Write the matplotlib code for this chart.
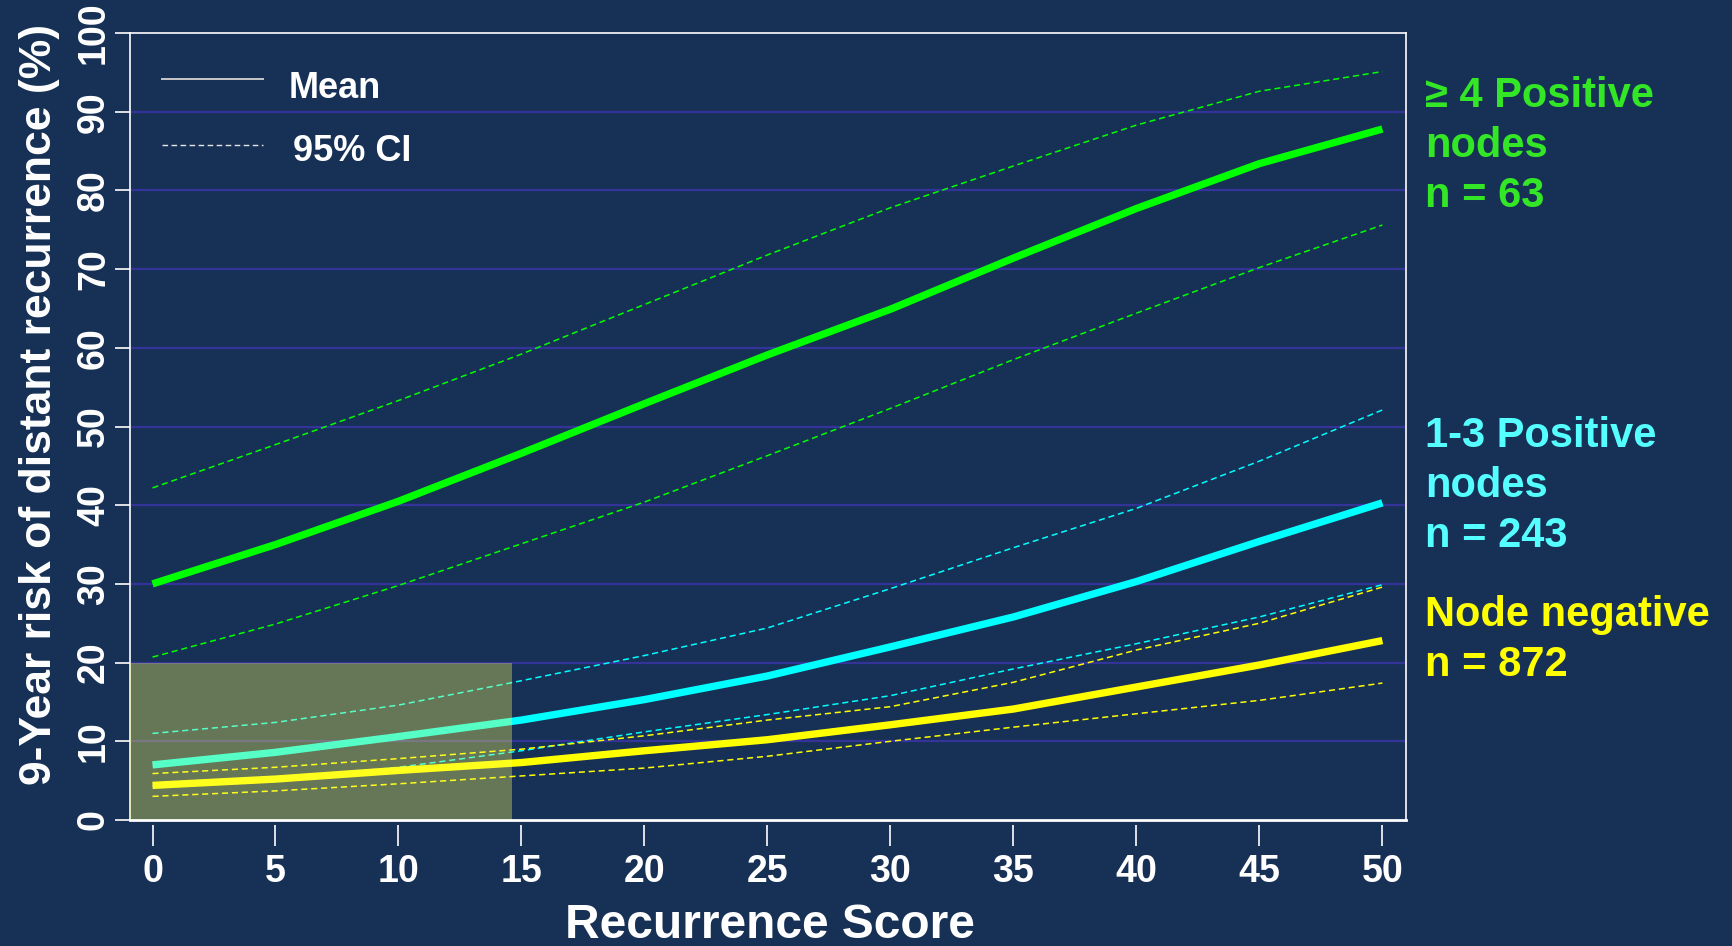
import matplotlib
matplotlib.use("Agg")
import matplotlib.pyplot as plt
from matplotlib.patches import Rectangle

plt.rcParams['font.family'] = ['Liberation Sans', 'DejaVu Sans']
plt.rcParams['font.weight'] = 'bold'

# ---- data ----
score = [0, 5, 10, 15, 20, 25, 30, 35, 40, 45, 50]

pos4_mean = [30.0, 35.0, 40.5, 46.6, 52.9, 59.1, 64.9, 71.4, 77.7, 83.4, 87.8]
pos4_upper = [42.2, 47.7, 53.3, 59.2, 65.5, 71.8, 77.8, 83.1, 88.3, 92.6, 95.1]
pos4_lower = [20.7, 24.9, 29.8, 35.1, 40.4, 46.3, 52.3, 58.5, 64.4, 70.2, 75.6]

pos13_mean = [7.0, 8.6, 10.6, 12.7, 15.3, 18.3, 22.0, 25.8, 30.3, 35.4, 40.3]
pos13_upper = [11.0, 12.4, 14.6, 17.7, 20.9, 24.4, 29.4, 34.6, 39.6, 45.6, 52.1]
pos13_lower = [4.3, 5.2, 6.7, 8.8, 11.2, 13.4, 15.8, 19.2, 22.4, 25.8, 29.9]

neg_mean = [4.4, 5.2, 6.3, 7.3, 8.8, 10.2, 12.1, 14.1, 16.9, 19.7, 22.8]
neg_upper = [5.9, 6.7, 7.8, 9.0, 10.7, 12.7, 14.4, 17.5, 21.6, 25.0, 29.6]
neg_lower = [3.0, 3.7, 4.6, 5.6, 6.6, 8.1, 10.0, 11.8, 13.5, 15.2, 17.4]

x_ticks = [0, 5, 10, 15, 20, 25, 30, 35, 40, 45, 50]
y_ticks = [0, 10, 20, 30, 40, 50, 60, 70, 80, 90, 100]
grid_levels = [10, 20, 30, 40, 50, 60, 70, 80, 90]

box_x_end = 14.6
box_y_top = 20

groups = [
    ("≥ 4 Positive\nnodes\nn = 63", pos4_mean, pos4_upper, pos4_lower, '#00ff00', '#33e626'),
    ("1-3 Positive\nnodes\nn = 243", pos13_mean, pos13_upper, pos13_lower, '#00ffff', '#55ffff'),
    ("Node negative\nn = 872", neg_mean, neg_upper, neg_lower, '#ffff00', '#ffff00'),
]
label_y_px = [97, 437, 616]

# ---- figure ----
W, H = 1733, 946
bg = '#173156'
fig = plt.figure(figsize=(W / 100, H / 100), dpi=100, facecolor=bg)
ax_l, ax_r, ax_t, ax_b = 130, 1406, 33, 820
ax = fig.add_axes([ax_l / W, 1 - ax_b / H, (ax_r - ax_l) / W, (ax_b - ax_t) / H])
ax.set_facecolor(bg)

ax.set_xlim(-0.915, 50.96)
ax.set_ylim(0, 100)

for g in grid_levels:
    ax.axhline(g, color='#333399', lw=1.6, zorder=1)

for name, m, u, l, c, tc in groups:
    ax.plot(score, u, color=c, lw=1.1, dashes=(4, 2.5), zorder=2)
    ax.plot(score, l, color=c, lw=1.1, dashes=(4, 2.5), zorder=2)
    ax.plot(score, m, color=c, lw=5.3, zorder=3, solid_capstyle='butt')

ax.add_patch(Rectangle((-0.915, 0), box_x_end + 0.915, box_y_top,
                       facecolor='#ffff5a', alpha=0.34, edgecolor='none', zorder=4))

# legend
ax.plot([0.38, 4.5], [94.1, 94.1], color='#c8c8c8', lw=1.4, zorder=5)
ax.plot([0.38, 4.5], [85.8, 85.8], color='#e6e6e6', lw=1.0, dashes=(4, 2.5), zorder=5)
ax.text(5.55, 93.0, "Mean", color='white', fontsize=26, fontweight='bold', va='center', ha='left')
ax.text(5.7, 85.0, "95% CI", color='white', fontsize=26, fontweight='bold', va='center', ha='left')

# spines
for s in ['top', 'left', 'right']:
    ax.spines[s].set_color('white')
    ax.spines[s].set_linewidth(1.2)
ax.spines['bottom'].set_position(('outward', 3.6))
ax.spines['bottom'].set_visible(False)
ax.plot([0, 1], [0, 0], transform=ax.transAxes, color='white', lw=2.0,
        clip_on=False, zorder=6)

ax.set_xticks(x_ticks)
ax.set_xticklabels([str(v) for v in x_ticks])
ax.set_yticks(y_ticks)
ax.set_yticklabels([str(v) for v in y_ticks], rotation=90, va='center')
ax.tick_params(axis='x', colors='white', length=15, width=1.2, pad=6, labelsize=27)
ax.tick_params(axis='y', colors='white', length=11, width=1.2, pad=2, labelsize=27)
for lab in ax.get_xticklabels() + ax.get_yticklabels():
    lab.set_fontweight('bold')

fig.text(770 / W, 1 - 925 / H, "Recurrence Score", color='white', fontsize=34.5,
         fontweight='bold', ha='center', va='center')
fig.text(40 / W, 1 - 404 / H, "9-Year risk of distant recurrence (%)", color='white',
         fontsize=32, fontweight='bold', ha='center', va='center', rotation=90)

for (name, m, u, l, c, tc), ypx in zip(groups, label_y_px):
    fig.text(1425 / W, 1 - (ypx - 21) / H, name, color=tc, fontsize=30,
             fontweight='bold', ha='left', va='top', linespacing=1.33)

fig.savefig("out.png", dpi=100, facecolor=bg)
